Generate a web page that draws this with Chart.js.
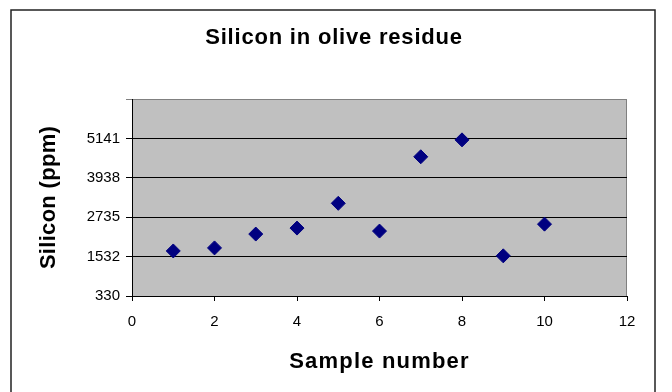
<!DOCTYPE html>
<html>
<head>
<meta charset="utf-8">
<script src="https://cdn.jsdelivr.net/npm/chart.js@4/dist/chart.umd.min.js"></script>
<style>
  html, body { margin: 0; padding: 0; background: #fff; }
  #wrap { width: 672px; height: 392px; }
</style>
</head>
<body>
<div id="wrap"><canvas id="chart" width="672" height="392"></canvas></div>
<script>
const sampleNumbers = [1, 2, 3, 4, 5, 6, 7, 8, 9, 10]
const siliconPpm = [1705, 1798, 2221, 2403, 3159, 2312, 4580, 5096, 1556, 2524]
const yTickValues = [330, 1532.75, 2735.5, 3938.25, 5141, 6343.75]
const yTickLabels = ['330', '1532', '2735', '3938', '5141', '']

const chartTitle = 'Silicon in olive residue'
const xTitle = 'Sample number'
const yTitle = 'Silicon (ppm)'

const fontFamily = '"Liberation Sans", Arial, sans-serif'

// grey plot area + the outer chart frame, Excel style
const excelFrame = {
  id: 'excelFrame',
  beforeDraw(chart) {
    const {ctx, chartArea: a} = chart
    ctx.save()
    ctx.fillStyle = '#fff'
    ctx.fillRect(0, 0, chart.width, chart.height)
    ctx.strokeStyle = '#222'
    ctx.lineWidth = 1.5
    ctx.strokeRect(11, 10, 644, 400)
    ctx.fillStyle = '#c0c0c0'
    ctx.fillRect(a.left, a.top, a.right - a.left, a.bottom - a.top)
    ctx.strokeStyle = '#808080'
    ctx.lineWidth = 1
    ctx.beginPath()
    ctx.moveTo(a.left, a.top + 0.5)
    ctx.lineTo(a.right - 0.5, a.top + 0.5)
    ctx.lineTo(a.right - 0.5, a.bottom)
    ctx.stroke()
    ctx.restore()
  }
}

// Excel draws its titles a bit wider than canvas does, so spacing is added here
const excelTitles = {
  id: 'excelTitles',
  afterDraw(chart) {
    const {ctx, chartArea: a} = chart
    ctx.save()
    ctx.fillStyle = '#000'
    ctx.textAlign = 'center'
    ctx.textBaseline = 'middle'
    ctx.font = 'bold 22px ' + fontFamily

    ctx.letterSpacing = '0.8px'
    ctx.fillText(chartTitle, 334, 38)

    ctx.letterSpacing = '1.2px'
    ctx.fillText(xTitle, (a.left + a.right) / 2, 362)

    ctx.letterSpacing = '0.3px'
    ctx.translate(49, (a.top + a.bottom) / 2)
    ctx.rotate(-Math.PI / 2)
    ctx.fillText(yTitle, 0, 0)
    ctx.restore()
  }
}

new Chart(document.querySelector('#chart'), {
  type: 'scatter',
  data: {
    datasets: [{
      data: sampleNumbers.map((x, i) => ({x: x, y: siliconPpm[i]})),
      backgroundColor: '#000080',
      borderColor: '#000080',
      pointStyle: 'rectRot',
      pointRadius: 7,
      pointHoverRadius: 7
    }]
  },
  plugins: [excelFrame, excelTitles],
  options: {
    responsive: false,
    animation: false,
    layout: { padding: { left: 0, right: 45, top: 99, bottom: 0 } },
    plugins: {
      legend: { display: false },
      tooltip: { enabled: false },
      title: { display: false }
    },
    scales: {
      x: {
        type: 'linear',
        min: 0,
        max: 12,
        afterFit: s => { s.height = 96 },
        ticks: {
          stepSize: 2,
          color: '#000',
          padding: 12,
          font: { family: fontFamily, size: 15 }
        },
        grid: { drawOnChartArea: false, color: '#000', tickLength: 5 },
        border: { color: '#000' }
      },
      y: {
        type: 'linear',
        min: 330,
        max: 6343.75,
        afterFit: s => { s.width = 132 },
        afterBuildTicks: s => { s.ticks = yTickValues.map(v => ({value: v})) },
        ticks: {
          color: '#000',
          padding: 6,
          font: { family: fontFamily, size: 15 },
          callback: (v, i) => yTickLabels[i]
        },
        grid: {
          color: ctx => ctx.index === yTickValues.length - 1 ? '#808080' : '#000',
          tickLength: 6
        },
        border: { color: '#000' }
      }
    }
  }
})
</script>
</body>
</html>
